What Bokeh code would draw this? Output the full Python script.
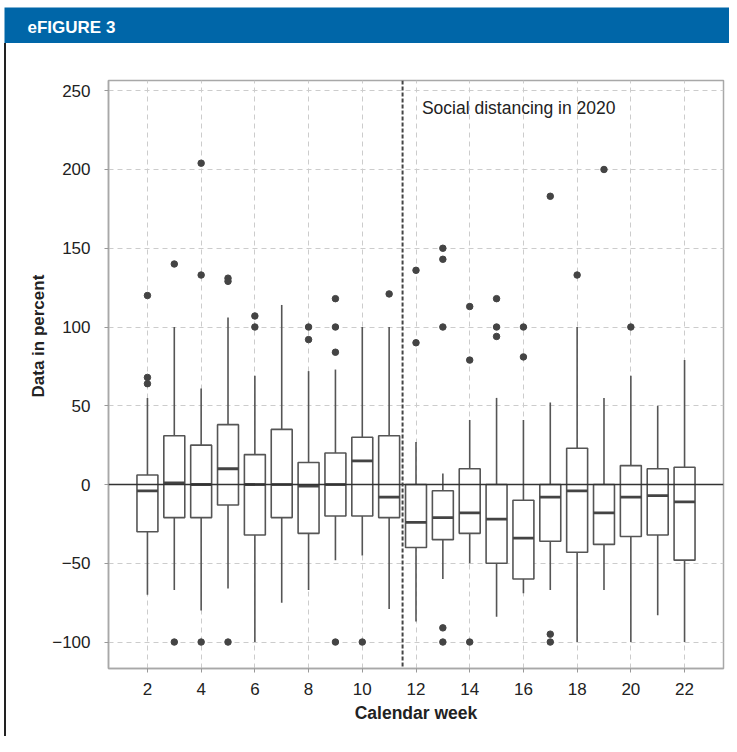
import math
from bokeh.plotting import figure
from bokeh.models import Span, Label, FixedTicker, Spacer, ColumnDataSource
from bokeh.layouts import column, row
from bokeh.embed import file_html
from bokeh.resources import INLINE

# ---------------- data ----------------
weeks = [2, 3, 4, 5, 6, 7, 8, 9, 10, 11, 12, 13, 14, 15, 16, 17, 18, 19, 20, 21, 22]
q1 = [-30, -21, -21, -13, -32, -21, -31, -20, -20, -21, -40, -35, -31, -50, -60, -36, -43, -38, -33, -32, -48]
median = [-4, 1, 0, 10, 0, 0, -1, 0, 15, -8, -24, -21, -18, -22, -34, -8, -4, -18, -8, -7, -11]
q3 = [6, 31, 25, 38, 19, 35, 14, 20, 30, 31, 0, -4, 10, 0, -10, 0, 23, 0, 12, 10, 11]
whisker_low = [-70, -67, -80, -66, -100, -75, -67, -48, -45, -79, -87, -60, -50, -84, -69, -67, -100, -67, -100, -83, -100]
whisker_high = [55, 100, 61, 106, 69, 114, 72, 73, 100, 100, 27, 7, 41, 55, 41, 52, 100, 55, 69, 50, 79]

outlier_weeks = [2, 2, 2, 3, 3, 4, 4, 4, 5, 5, 5, 6, 6, 8, 8, 9, 9, 9, 9, 10, 11,
                 12, 12, 13, 13, 13, 13, 13, 14, 14, 14, 15, 15, 15, 16, 16,
                 17, 17, 17, 18, 19, 20]
outlier_values = [120, 68, 64, 140, -100, 204, 133, -100, 131, 129, -100, 107, 100, 100, 92, 118, 100, 84, -100, -100, 121,
                  136, 90, 150, 143, 100, -91, -100, 113, 79, -100, 118, 100, 94, 100, 81,
                  183, -95, -100, 133, 200, 100]

x_ticks = [2, 4, 6, 8, 10, 12, 14, 16, 18, 20, 22]
y_ticks = [-100, -50, 0, 50, 100, 150, 200, 250]
y_tick_labels = ["\u2212100", "\u221250", "0", "50", "100", "150", "200", "250"]

header_text = "eFIGURE 3"
annotation_text = "Social distancing in 2020"
x_title = "Calendar week"
y_title = "Data in percent"
distancing_week = 11.5

FONT = "Liberation Sans"
BLUE = "#0066a8"
TEXT = "#222222"

TOTAL_W = 729
HEADER_TOP = 7
HEADER_H = 36
BODY_H = 736 - HEADER_TOP - HEADER_H   # 693
YT_W = 42                               # width of y-title strip
FRAME_BOTTOM = 668                      # page y of plot frame bottom


def blank(width, height, bg="white"):
    f = figure(width=width, height=height, x_range=(0, 1), y_range=(0, 1),
               toolbar_location=None, output_backend="svg", min_border=0)
    f.axis.visible = False
    f.grid.visible = False
    f.outline_line_color = None
    f.background_fill_color = bg
    f.border_fill_color = bg
    return f


# ---------------- header ----------------
header = blank(TOTAL_W - 4, HEADER_H, BLUE)
header.add_layout(Label(x=23, y=HEADER_H - 20, x_units="screen", y_units="screen", text=header_text,
                        text_color="white", text_font=FONT, text_font_style="bold",
                        text_font_size="17px", text_baseline="middle"))

# ---------------- y title strip ----------------
# (its frame gets aligned with the main plot's frame inside the row)
ytitle = blank(YT_W, BODY_H)
ytitle.add_layout(Label(x=32, y=FRAME_BOTTOM - 397, x_units="screen", y_units="screen",
                        text=y_title, angle=math.pi / 2, text_font=FONT, text_font_style="bold",
                        text_font_size="17px", text_color=TEXT, text_align="left",
                        text_baseline="middle"))

# ---------------- main plot ----------------
p_w = TOTAL_W - 6 - YT_W
p = figure(width=p_w, height=BODY_H, x_range=(0.55, 23.45), y_range=(-116.8, 256.5),
           toolbar_location=None, output_backend="svg",
           min_border_left=108 - 6 - YT_W, min_border_right=TOTAL_W - 723,
           min_border_top=80 - HEADER_TOP - HEADER_H, min_border_bottom=736 - FRAME_BOTTOM)
p.background_fill_color = "white"
p.border_fill_color = "white"
p.outline_line_color = "#a8a8a8"
p.outline_line_width = 1.5

src = ColumnDataSource(dict(week=weeks, q1=q1, med=median, q3=q3, lo=whisker_low, hi=whisker_high,
                            left=[w - 0.39 for w in weeks], right=[w + 0.39 for w in weeks]))

p.segment(x0="week", y0="q3", x1="week", y1="hi", source=src, line_color="#555555", line_width=1.6)
p.segment(x0="week", y0="q1", x1="week", y1="lo", source=src, line_color="#555555", line_width=1.6)
p.vbar(x="week", top="q3", bottom="q1", width=0.78, source=src, fill_color="white",
       line_color="#555555", line_width=1.6)
p.segment(x0="left", y0="med", x1="right", y1="med", source=src, line_color="#444444", line_width=2.8)
p.scatter(x=outlier_weeks, y=outlier_values, size=6.5, fill_color="#444444", line_color="#444444")

p.add_layout(Span(location=0, dimension="width", line_color="#333333", line_width=1.3))
p.add_layout(Span(location=distancing_week, dimension="height", line_color="#444444",
                  line_width=2, line_dash="4 2"))

p.add_layout(Label(x=distancing_week + 0.72, y=239, text=annotation_text, text_font=FONT,
                   text_font_size="17.5px", text_color=TEXT, text_baseline="middle"))

# grid
for g in (p.xgrid, p.ygrid):
    g.grid_line_color = "#cccccc"
    g.grid_line_dash = "5 4"
    g.grid_line_width = 1

p.xaxis.ticker = FixedTicker(ticks=x_ticks)
p.yaxis.ticker = FixedTicker(ticks=y_ticks)
p.yaxis.major_label_overrides = {t: l for t, l in zip(y_ticks, y_tick_labels)}

for ax in (p.xaxis, p.yaxis):
    ax.axis_line_color = "#a8a8a8"
    ax.axis_line_width = 1.5
    ax.major_tick_line_color = "#999999"
    ax.major_tick_in = 0
    ax.major_tick_out = 4
    ax.minor_tick_line_color = None
    ax.major_label_text_font = FONT
    ax.major_label_text_font_size = "17px"
    ax.major_label_text_color = TEXT

p.yaxis.major_label_standoff = 14
p.xaxis.major_label_standoff = 10

p.xaxis.axis_label = x_title
p.xaxis.axis_label_text_font = FONT
p.xaxis.axis_label_text_font_style = "bold"
p.xaxis.axis_label_text_font_size = "17.5px"
p.xaxis.axis_label_text_color = TEXT
p.xaxis.axis_label_standoff = 5

left_bar = Spacer(width=2, height=BODY_H, styles={"background-color": "#222222"})

layout = column(
    Spacer(width=TOTAL_W, height=HEADER_TOP),
    row(Spacer(width=4, height=HEADER_H), header, spacing=0),
    row(Spacer(width=4, height=BODY_H), left_bar, ytitle, p, spacing=0),
    spacing=0,
)

open("out.html", "w").write(file_html(layout, INLINE))
